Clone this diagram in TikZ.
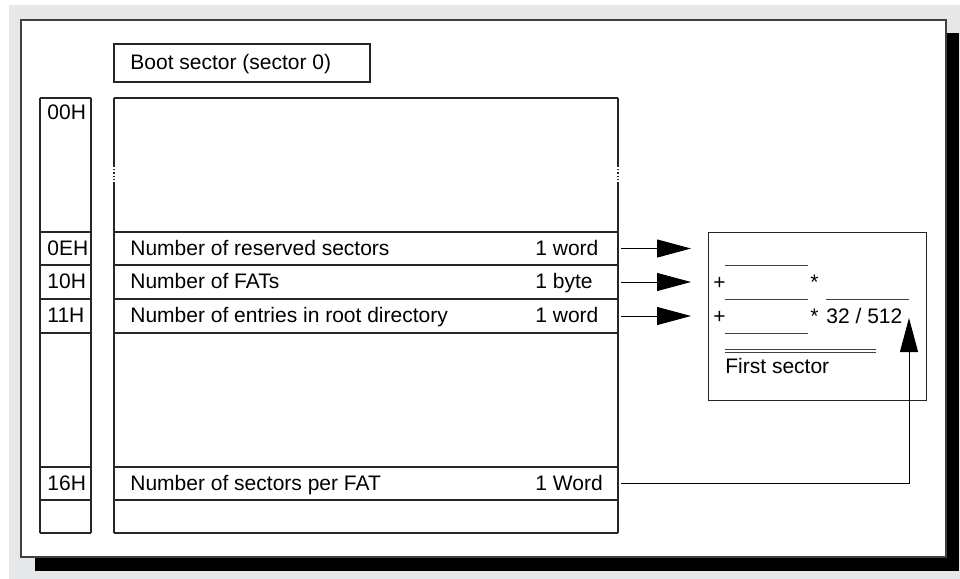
\documentclass[tikz,border=0pt]{standalone}
\usepackage{fontspec}
\setmainfont{Liberation Sans}
\usetikzlibrary{arrows.meta}
\definecolor{bggray}{RGB}{230,231,232}
\tikzset{
  txt/.style={inner sep=0pt, anchor=base west, font=\fontsize{10.5}{12}\selectfont},
  grid/.style={line width=0.6pt, draw=black!85},
  blank/.style={line width=0.5pt, draw=black!75},
  arr/.style={-{Triangle[length=17pt,width=9pt]}, line width=0.5pt},
}
\begin{document}
\begin{tikzpicture}[x=0.5pt,y=-0.5pt]
  \useasboundingbox (0,0) rectangle (960,579);
  % page with shadow
  \fill[bggray] (9,5) rectangle (960,579);
  \fill[black] (35,33) rectangle (959,571);
  \draw[fill=white, line width=0.75pt, draw=black!75] (21,20) rectangle (946,557);

  % title box
  \draw[grid] (114,44) rectangle (370,82);
  \node[txt] (boot) at (130,69) {Boot sector (sector 0)};

  % offset column and field table
  \foreach \y in {98,232,265,299,333,467,500,533} {
    \draw[grid] (40,\y) -- (91,\y);
    \draw[grid] (114,\y) -- (618,\y);
  }
  \draw[grid] (40,98) -- (40,533) (91,98) -- (91,533);
  \foreach \x in {114,618} {
    \draw[grid] (\x,98) -- (\x,166) (\x,182) -- (\x,533);
    \draw[grid, densely dotted] (\x,166) -- (\x,182);
  }

  \node[txt] (o00) at (47,119.5) {00H};
  \node[txt] (o0e) at (47,255) {0EH};
  \node[txt] (o10) at (47,288.5) {10H};
  \node[txt] (o11) at (47,322.5) {11H};
  \node[txt] (o16) at (47,490) {16H};

  \node[txt] (res) at (130,255) {Number of reserved sectors};
  \node[txt] (fats) at (130,288.5) {Number of FATs};
  \node[txt] (ents) at (130,322.5) {Number of entries in root directory};
  \node[txt] (spf) at (130,490) {Number of sectors per FAT};

  \node[txt] (resw) at (535,255) {1 word};
  \node[txt] (fatsw) at (535,288.5) {1 byte};
  \node[txt] (entsw) at (535,322.5) {1 word};
  \node[txt] (spfw) at (535,490) {1 Word};

  % formula box
  \node[draw, grid, inner sep=0pt, minimum width=109pt, minimum height=84pt,
    anchor=north west] (fbox) at (708,232) {};
  \draw[blank] (725,265) -- (808,265) (725,299) -- (808,299)
    (826,299) -- (909,299) (725,333) -- (808,333);
  \draw[blank] (725,349.5) -- (876,349.5) (725,352.8) -- (876,352.8);
  \node[txt] (plus1) at (713,289.5) {+};
  \node[txt] (star1) at (810,289.5) {*};
  \node[txt] (plus2) at (713,323.5) {+};
  \node[txt] (star2) at (810,323.5) {*};
  \node[txt] (div) at (826,323.5) {32 / 512};
  \node[txt] (first) at (725,373) {First sector};

  % connectors
  \coordinate (r1) at (621,248.5);
  \coordinate (r2) at (621,282);
  \coordinate (r3) at (621,316);
  \coordinate (r4) at (621,483.5);
  \coordinate (ain) at ([xshift=-8.5pt]fbox.west);
  \coordinate (up) at (909,318);
  \foreach \r in {r1,r2,r3}
    \draw[arr] (\r) -- (ain |- \r);
  \draw[arr] (r4) -| (up);
\end{tikzpicture}
\end{document}
